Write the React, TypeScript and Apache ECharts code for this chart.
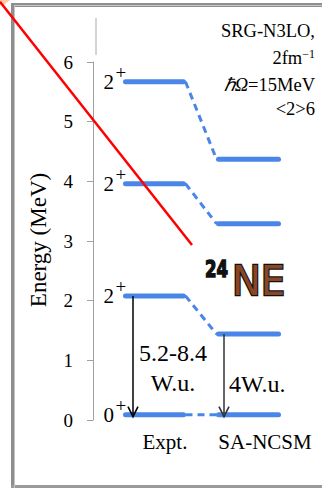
import React, { useEffect, useRef } from 'react';
import * as echarts from 'echarts';

// Level scheme of the lowest 0+ and 2+ states: experiment vs. SA-NCSM
const models = ['Expt.', 'SA-NCSM'];
const spins = ['0', '2', '2', '2'];
const parity = '+';
const exptEnergies = [0.09, 2.08, 3.96, 5.67];
const ncsmEnergies = [0.09, 1.44, 3.29, 4.37];
const be2Expt = ['5.2-8.4', 'W.u.'];
const be2Ncsm = ['4W.u.'];
const interactionNotes = ['SRG-N3LO,', '2fm{s|−1}', '{i|ℏΩ}=15MeV', '<2>6'];
const nucleusMass = '24';
const nucleusName = 'NE';
const axisTitle = 'Energy (MeV)';

// horizontal layout of the two columns, in x-axis units (pixels from the y axis)
const COL = {
  exptStart: 32.5,
  exptEnd: 90.5,
  ncsmStart: 125.5,
  ncsmEnd: 185.5,
  exptArrow: 40,
  ncsmArrow: 131,
};

const BLUE = '#4a86e8';
const SERIF = '"Liberation Serif", "Times New Roman", serif';

export default function App() {
  const ref = useRef<HTMLDivElement>(null);

  useEffect(() => {
    if (!ref.current) return;
    const chart = echarts.init(ref.current, undefined, { renderer: 'svg' });

    const levelData = exptEnergies.map((e, i) => [e, ncsmEnergies[i], i]);
    const arrowData = [
      [COL.exptArrow, exptEnergies[1], exptEnergies[0], 0],
      [COL.ncsmArrow, ncsmEnergies[1], ncsmEnergies[0], 1],
    ];

    const levelItem = (params: any, api: any) => {
      const e1 = api.value(0);
      const e2 = api.value(1);
      const idx = api.value(2);
      const a0 = api.coord([COL.exptStart, e1]);
      const a1 = api.coord([COL.exptEnd, e1]);
      const b0 = api.coord([COL.ncsmStart, e2]);
      const b1 = api.coord([COL.ncsmEnd, e2]);
      const lvl = { stroke: BLUE, lineWidth: 5, lineCap: 'round' };
      return {
        type: 'group',
        children: [
          {
            type: 'line',
            shape: { x1: a1[0] + 2, y1: a1[1], x2: b0[0] - 2, y2: b0[1] },
            style: { stroke: BLUE, lineWidth: 3, lineDash: [7, 5] },
          },
          { type: 'line', shape: { x1: a0[0], y1: a0[1], x2: a1[0], y2: a1[1] }, style: lvl },
          { type: 'line', shape: { x1: b0[0], y1: b0[1], x2: b1[0], y2: b1[1] }, style: lvl },
          {
            type: 'text',
            x: a0[0] - 11.5,
            y: a0[1] + 0.5,
            style: {
              text: spins[idx],
              align: 'right',
              verticalAlign: 'middle',
              font: `21px ${SERIF}`,
              fill: '#000',
            },
          },
          {
            type: 'text',
            x: a0[0] - 10,
            y: a0[1] - 9.5,
            z2: 10,
            style: {
              text: parity,
              align: 'left',
              verticalAlign: 'middle',
              font: `19px ${SERIF}`,
              fill: '#000',
            },
          },
        ],
      };
    };

    const arrowItem = (params: any, api: any) => {
      const x = api.value(0);
      const p0 = api.coord([x, api.value(1)]);
      const p1 = api.coord([x, api.value(2)]);
      const color = api.value(3) === 0 ? '#000' : '#333';
      const tipY = p1[1] + 2;
      return {
        type: 'group',
        children: [
          {
            type: 'line',
            shape: { x1: p0[0], y1: p0[1], x2: p1[0], y2: tipY },
            style: { stroke: color, lineWidth: 1.5 },
          },
          {
            type: 'polyline',
            shape: { points: [[p1[0] - 5, tipY - 10], [p1[0], tipY], [p1[0] + 5, tipY - 10]] },
            style: { stroke: color, lineWidth: 1.6, fill: 'none' },
          },
        ],
      };
    };

    const txt = (text: string, x: number, y: number, size: number, align = 'center', extra: any = {}) => ({
      type: 'text',
      x,
      y,
      z: 50,
      style: { text, align, verticalAlign: 'middle', font: `${size}px ${SERIF}`, fill: '#000', ...extra },
    });

    const noteRich = {
      s: { fontSize: 12, fontFamily: 'Liberation Serif', padding: [0, 0, 8, 0], fill: '#000' },
      i: { fontSize: 18.5, fontFamily: 'Liberation Serif', fontStyle: 'italic', fill: '#000' },
    };

    chart.setOption({
      animation: false,
      backgroundColor: '#fff',
      textStyle: { fontFamily: 'Liberation Serif' },
      grid: { left: 93, right: 0, top: 62, bottom: 68 },
      xAxis: { type: 'value', min: 0, max: 229, show: false },
      yAxis: {
        type: 'value',
        min: 0,
        max: 6,
        interval: 1,
        axisLine: { show: true, lineStyle: { color: '#a0a0a0', width: 1 } },
        axisTick: { show: true, length: 6, lineStyle: { color: '#a0a0a0' } },
        splitLine: { show: false },
        axisLabel: {
          fontSize: 19,
          fontFamily: 'Liberation Serif',
          color: '#000',
          margin: 20,
          padding: [3, 0, 0, 0],
        },
      },
      series: [
        {
          type: 'custom',
          data: levelData,
          renderItem: levelItem,
          encode: { x: -1, y: 0 },
          z: 2,
          silent: true,
        },
        {
          type: 'custom',
          data: arrowData,
          renderItem: arrowItem,
          encode: { x: 0, y: 1 },
          z: 5,
          silent: true,
        },
      ],
      graphic: [
        // slide frame
        { type: 'rect', shape: { x: 11, y: 3, width: 4, height: 485 }, style: { fill: '#8e8e8e' }, z: 60 },
        { type: 'rect', shape: { x: 14, y: 6, width: 1, height: 482 }, style: { fill: '#c4c4c4' }, z: 61 },
        { type: 'rect', shape: { x: 11, y: 3, width: 311, height: 4 }, style: { fill: '#8e8e8e' }, z: 60 },
        { type: 'rect', shape: { x: 14, y: 5, width: 308, height: 1 }, style: { fill: '#c8c8c8' }, z: 61 },
        { type: 'rect', shape: { x: 11, y: 485, width: 311, height: 3 }, style: { fill: '#9a9a9a' }, z: 60 },
        { type: 'polygon', shape: { points: [[0, 0], [10, 0], [2, 6], [0, 5]] }, style: { fill: '#ffcaa8' }, z: 62 },
        // short rule above the energy axis
        { type: 'line', shape: { x1: 96, y1: 18, x2: 96, y2: 55 }, style: { stroke: '#a8a8a8', lineWidth: 1 }, z: 10 },
        // axis title
        {
          type: 'text',
          x: 38,
          y: 240,
          rotation: Math.PI / 2,
          z: 50,
          style: { text: axisTitle, align: 'center', verticalAlign: 'middle', font: `23px ${SERIF}`, fill: '#000' },
        },
        // interaction details
        txt(interactionNotes[0], 315, 30.5, 18.5, 'right'),
        txt(interactionNotes[1], 315, 57.5, 18.5, 'right', { rich: noteRich }),
        txt(interactionNotes[2], 315, 84.5, 18.5, 'right', { rich: noteRich }),
        txt(interactionNotes[3], 315, 108.5, 18.5, 'right'),
        // B(E2) strengths
        txt(be2Expt[0], 173, 353, 24),
        txt(be2Expt[1], 173, 383, 24),
        txt(be2Ncsm[0], 229, 384, 24, 'left'),
        // column names
        txt(models[0], 165, 442, 21),
        txt(models[1], 265, 442, 21),
        // nucleus tag
        {
          type: 'text',
          x: 205,
          y: 269,
          scaleX: 0.72,
          z: 55,
          style: {
            text: nucleusMass,
            align: 'left',
            verticalAlign: 'middle',
            font: 'bold 23px "DejaVu Sans", sans-serif',
            fill: '#111',
            stroke: '#111',
            lineWidth: 1.5,
          },
        },
        {
          type: 'text',
          x: 232,
          y: 281,
          scaleX: 0.94,
          z: 55,
          style: {
            text: nucleusName,
            align: 'left',
            verticalAlign: 'middle',
            font: '41px "DejaVu Sans", sans-serif',
            fill: '#8a4524',
            stroke: '#111',
            lineWidth: 2.5,
          },
        },
        // red strike line
        {
          type: 'line',
          shape: { x1: 0, y1: 1.7, x2: 192, y2: 245 },
          style: { stroke: '#ff0000', lineWidth: 2.5 },
          z: 100,
        },
      ],
    });

    return () => chart.dispose();
  }, []);

  return <div ref={ref} style={{ position: 'fixed', left: 0, top: 0, width: 322, height: 488 }} />;
}
